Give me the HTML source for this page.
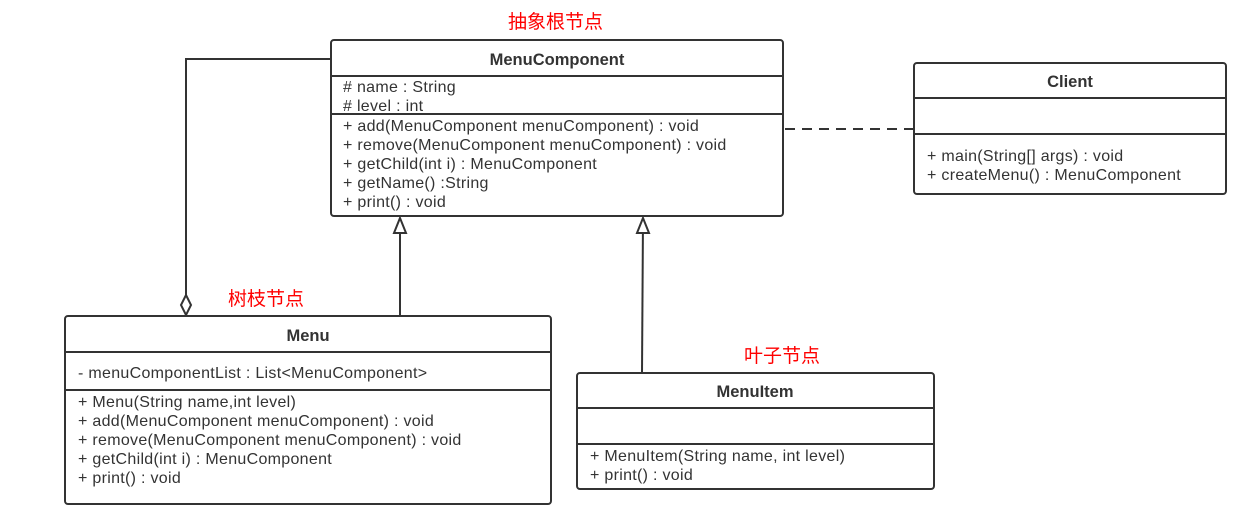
<!DOCTYPE html>
<html><head><meta charset="utf-8"><style>
html,body{margin:0;padding:0;background:#fff;}
svg text{font-family:"Liberation Sans","Noto Sans CJK SC",sans-serif;}
.t{font-size:16px;letter-spacing:0.3px;fill:#333;}
.h{font-size:16.5px;font-weight:bold;fill:#333;}
.r{font-size:19px;fill:#f00;font-family:"Noto Sans CJK SC","WenQuanYi Zen Hei",sans-serif;}
.b{fill:#fff;stroke:#333;stroke-width:2;}
.l{stroke:#333;stroke-width:2;fill:none;}
</style></head><body>
<svg width="1252" height="517" xmlns="http://www.w3.org/2000/svg">
<polyline class="l" points="331,59 186,59 186,296"/>
<polygon points="186,295 191,305 186,315 181,305" fill="#fff" stroke="#333" stroke-width="2"/>
<line class="l" x1="400" y1="316" x2="400" y2="218"/>
<polygon points="400,218 406,233 394,233" fill="#fff" stroke="#333" stroke-width="2"/>
<line class="l" x1="642" y1="373" x2="643" y2="218"/>
<polygon points="643,218 649,233 637,233" fill="#fff" stroke="#333" stroke-width="2"/>
<line class="l" x1="785" y1="129" x2="914" y2="129" stroke-dasharray="10,7"/>

<rect class="b" x="331" y="40" width="452" height="176" rx="3"/>
<line class="l" x1="331" y1="76" x2="783" y2="76"/>
<line class="l" x1="331" y1="114" x2="783" y2="114"/>
<text class="h" x="557" y="65" text-anchor="middle">MenuComponent</text>
<text class="t" x="343" y="92"># name : String</text>
<text class="t" x="343" y="111"># level : int</text>
<text class="t" x="343" y="131">+ add(MenuComponent menuComponent) : void</text>
<text class="t" x="343" y="150">+ remove(MenuComponent menuComponent) : void</text>
<text class="t" x="343" y="169">+ getChild(int i) : MenuComponent</text>
<text class="t" x="343" y="188">+ getName() :String</text>
<text class="t" x="343" y="207">+ print() : void</text>

<rect class="b" x="914" y="63" width="312" height="131" rx="3"/>
<line class="l" x1="914" y1="98" x2="1226" y2="98"/>
<line class="l" x1="914" y1="134" x2="1226" y2="134"/>
<text class="h" x="1070" y="87" text-anchor="middle">Client</text>
<text class="t" x="927" y="161">+ main(String[] args) : void</text>
<text class="t" x="927" y="180">+ createMenu() : MenuComponent</text>

<rect class="b" x="65" y="316" width="486" height="188" rx="3"/>
<line class="l" x1="65" y1="352" x2="551" y2="352"/>
<line class="l" x1="65" y1="390" x2="551" y2="390"/>
<text class="h" x="308" y="341" text-anchor="middle">Menu</text>
<text class="t" x="78" y="378">- menuComponentList : List&lt;MenuComponent&gt;</text>
<text class="t" x="78" y="407">+ Menu(String name,int level)</text>
<text class="t" x="78" y="426">+ add(MenuComponent menuComponent) : void</text>
<text class="t" x="78" y="445">+ remove(MenuComponent menuComponent) : void</text>
<text class="t" x="78" y="464">+ getChild(int i) : MenuComponent</text>
<text class="t" x="78" y="483">+ print() : void</text>

<rect class="b" x="577" y="373" width="357" height="116" rx="3"/>
<line class="l" x1="577" y1="408" x2="934" y2="408"/>
<line class="l" x1="577" y1="444" x2="934" y2="444"/>
<text class="h" x="755" y="397" text-anchor="middle">MenuItem</text>
<text class="t" x="590" y="461">+ MenuItem(String name, int level)</text>
<text class="t" x="590" y="480">+ print() : void</text>

<text class="r" x="508" y="28">抽象根节点</text>
<text class="r" x="228" y="305">树枝节点</text>
<text class="r" x="744" y="362">叶子节点</text>
</svg>
</body></html>
